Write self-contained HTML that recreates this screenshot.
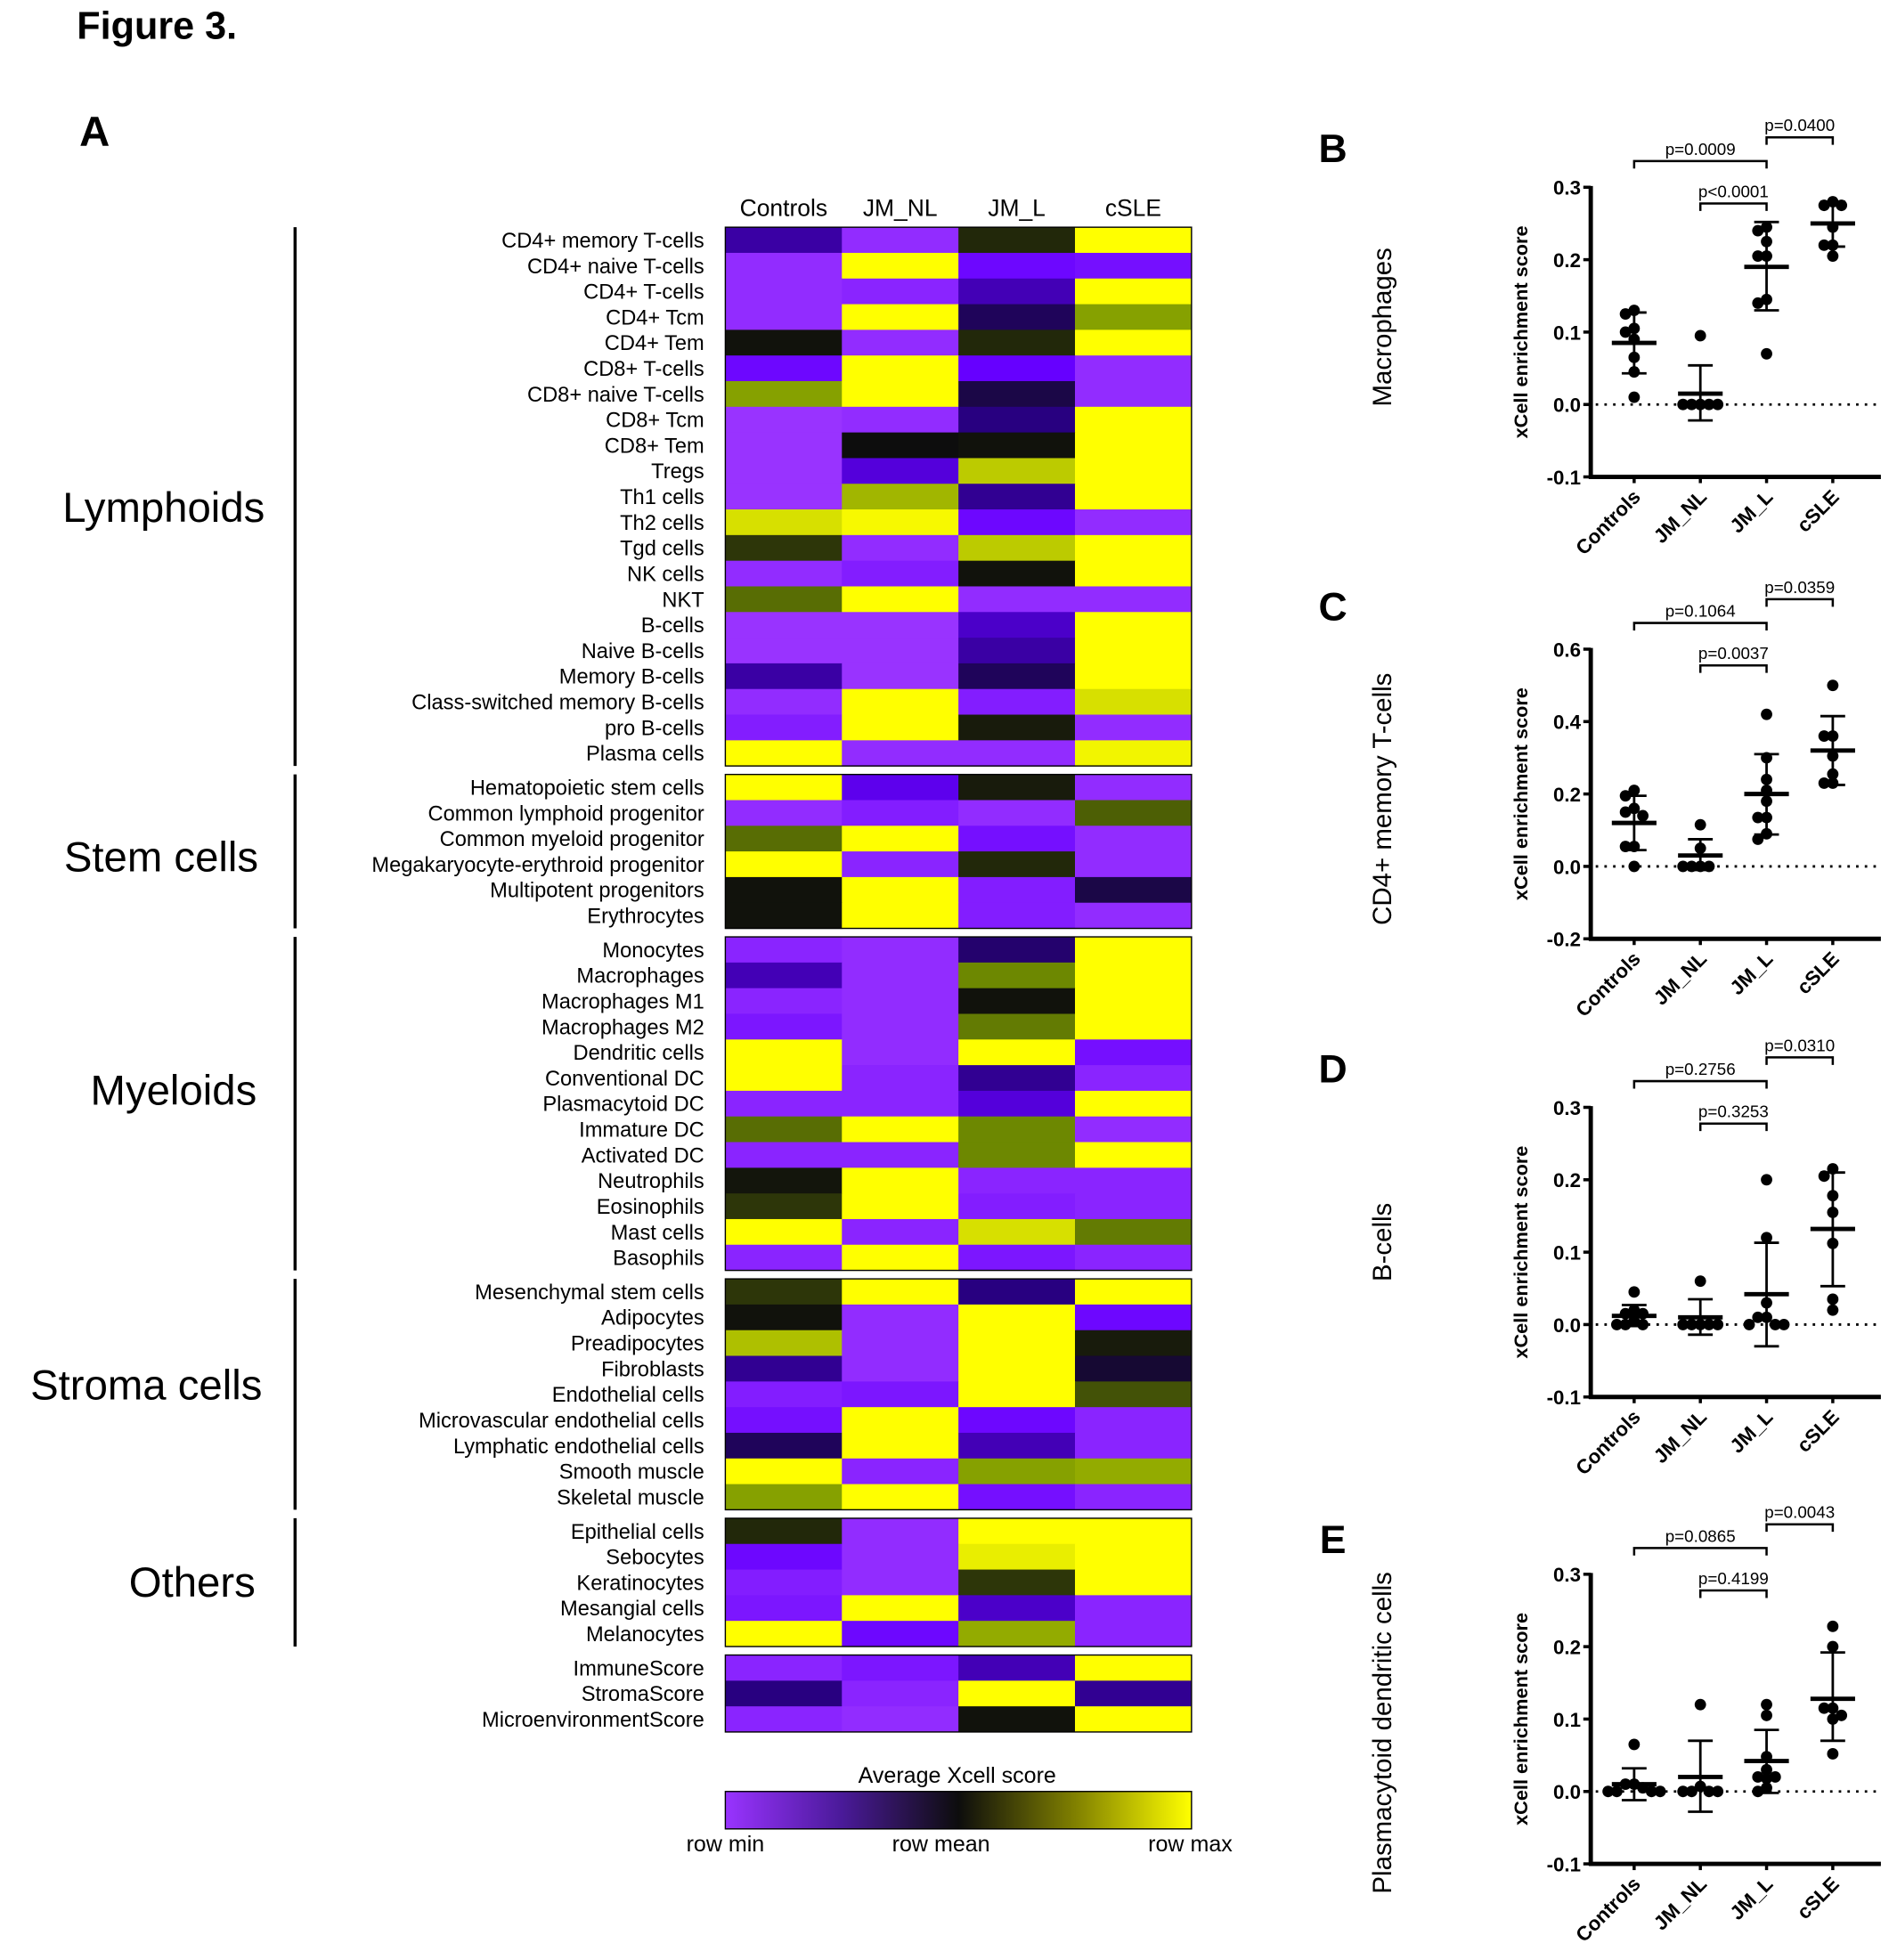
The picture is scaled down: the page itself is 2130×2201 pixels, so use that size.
<!DOCTYPE html>
<html><head><meta charset="utf-8"><style>
html,body{margin:0;padding:0;background:#fff}
svg{display:block;font-family:"Liberation Sans",Arial,sans-serif}
</style></head><body>
<svg id="fig" width="2130" height="2201" viewBox="0 0 1530 1570" preserveAspectRatio="none" xmlns="http://www.w3.org/2000/svg">
<defs><linearGradient id="lg" x1="0" x2="1" y1="0" y2="0">
<stop offset="0" stop-color="#9933ff"/><stop offset="0.25" stop-color="#4a1a99"/><stop offset="0.5" stop-color="#0d0d0d"/><stop offset="0.75" stop-color="#808000"/><stop offset="1" stop-color="#ffff00"/></linearGradient></defs>
<text x="62" y="31" font-size="31" font-weight="bold">Figure 3.</text>
<text x="64" y="117" font-size="34" font-weight="bold">A</text>
<g id="heat"></g>
<g id="panels"></g>
</svg>
<script>
const NS="http://www.w3.org/2000/svg";
function mk(tag,attrs,parent,txt){const e=document.createElementNS(NS,tag);for(const k in attrs)e.setAttribute(k,attrs[k]);if(txt!==undefined)e.textContent=txt;parent.appendChild(e);return e;}

// ---------- heatmap data ----------
const columns=["Controls","JM_NL","JM_L","cSLE"];
const groupNames=["Lymphoids","Stem cells","Myeloids","Stroma cells","Others",""];
const rowLabels=[
["CD4+ memory T-cells","CD4+ naive T-cells","CD4+ T-cells","CD4+ Tcm","CD4+ Tem","CD8+ T-cells","CD8+ naive T-cells","CD8+ Tcm","CD8+ Tem","Tregs","Th1 cells","Th2 cells","Tgd cells","NK cells","NKT","B-cells","Naive B-cells","Memory B-cells","Class-switched memory B-cells","pro B-cells","Plasma cells"],
["Hematopoietic stem cells","Common lymphoid progenitor","Common myeloid progenitor","Megakaryocyte-erythroid progenitor","Multipotent progenitors","Erythrocytes"],
["Monocytes","Macrophages","Macrophages M1","Macrophages M2","Dendritic cells","Conventional DC","Plasmacytoid DC","Immature DC","Activated DC","Neutrophils","Eosinophils","Mast cells","Basophils"],
["Mesenchymal stem cells","Adipocytes","Preadipocytes","Fibroblasts","Endothelial cells","Microvascular endothelial cells","Lymphatic endothelial cells","Smooth muscle","Skeletal muscle"],
["Epithelial cells","Sebocytes","Keratinocytes","Mesangial cells","Melanocytes"],
["ImmuneScore","StromaScore","MicroenvironmentScore"]];
// scaled values: -1 row min, 0 row mean, 1 row max
const cellValues=[
[[-0.4,-0.95,0.1,1],[-0.95,1,-0.7,-0.75],[-0.95,-0.9,-0.45,1],[-0.95,1,-0.2,0.55],[0.02,-0.95,0.1,1],[-0.7,1,-0.65,-0.95],[0.55,1,-0.15,-0.95],[-1,-0.95,-0.3,1],[-1,0.0,0.02,1],[-1,-0.55,0.75,1],[-1,0.65,-0.35,1],[0.85,0.97,-0.7,-0.95],[0.15,-0.95,0.75,1],[-0.95,-0.85,0.02,1],[0.35,1,-0.95,-0.95],[-1,-1,-0.5,1],[-1,-1,-0.4,1],[-0.4,-1,-0.2,1],[-0.95,1,-0.85,0.85],[-0.85,1,0.05,-0.95],[1,-0.95,-0.95,0.95]],
[[1,-0.6,0.05,-0.95],[-0.95,-0.85,-0.95,0.3],[0.35,1,-0.75,-0.95],[1,-0.9,0.1,-0.95],[0.02,1,-0.85,-0.15],[0.02,1,-0.85,-0.95]],
[[-0.9,-0.95,-0.25,1],[-0.45,-0.95,0.45,1],[-0.9,-0.95,0.02,1],[-0.8,-0.95,0.4,1],[1,-0.95,1,-0.75],[1,-0.9,-0.35,-0.9],[-0.9,-0.9,-0.55,1],[0.35,1,0.45,-0.95],[-0.9,-0.9,0.45,1],[0.03,1,-0.9,-0.9],[0.15,1,-0.85,-0.9],[1,-0.9,0.85,0.4],[-0.9,1,-0.8,-0.9]],
[[0.15,1,-0.3,1],[0.02,-0.95,1,-0.7],[0.7,-0.95,1,0.05],[-0.35,-0.95,1,-0.1],[-0.85,-0.8,1,0.25],[-0.75,1,-0.7,-0.9],[-0.2,1,-0.45,-0.9],[1,-0.9,0.55,0.6],[0.55,1,-0.75,-0.9]],
[[0.1,-0.95,1,1],[-0.7,-0.95,0.92,1],[-0.85,-0.95,0.15,1],[-0.8,1,-0.5,-0.9],[1,-0.7,0.6,-0.9]],
[[-0.9,-0.8,-0.45,1],[-0.3,-0.9,1,-0.35],[-0.9,-0.95,0.02,1]]];

function colorOf(v){
  const stops=[[-1,[153,51,255]],[-0.65,[102,0,255]],[-0.3,[40,0,128]],[0,[13,13,13]],[0.5,[120,150,0]],[1,[255,255,0]]];
  for(let i=1;i<stops.length;i++){if(v<=stops[i][0]){const a=stops[i-1],b=stops[i];const t=(v-a[0])/(b[0]-a[0]);const c=a[1].map((x,j)=>Math.round(x+(b[1][j]-x)*t));return `rgb(${c})`;}}
  return "rgb(255,255,0)";
}
const heat=document.getElementById("heat");
const HX0=585,HX1=961,RH=20.55,GAP=6.8,HY0=182;
const colW=(HX1-HX0)/columns.length;
const colX=i=>HX0+i*colW;
columns.forEach((c,i)=>{const t=mk("text",{x:colX(i)+colW/2,y:173,"text-anchor":"middle","font-size":19},heat,c);

});
const groupLabelPos=[[132,406],[130,686],[140,873],[118,1109],[155,1267]];
let y=HY0;
rowLabels.forEach((rows,g)=>{
  const gy0=y;
  rows.forEach((lab,r)=>{
    cellValues[g][r].forEach((v,c)=>{
      const rc=mk("rect",{x:colX(c),y:y,width:colW+0.4,height:RH+0.4,fill:colorOf(v)},heat);
      
      
    });
    const t=mk("text",{x:568,y:y+RH/2+6,"text-anchor":"end","font-size":17},heat,lab);
    
    
    y+=RH;
  });
  const fr=mk("rect",{x:HX0,y:gy0,width:HX1-HX0,height:y-gy0,fill:"none",stroke:"#000","stroke-width":1},heat);
  
  
  if(groupNames[g]){
    const ln=mk("line",{x1:238,x2:238,y1:gy0,y2:y,stroke:"#000","stroke-width":2.5},heat);
    
    
    const gl=mk("text",{x:groupLabelPos[g][0],y:groupLabelPos[g][1]+12,"text-anchor":"middle","font-size":34},heat,groupNames[g]);
    
    
  }
  y+=GAP;
});
// legend
const lt=mk("text",{x:772,y:1428,"text-anchor":"middle","font-size":18},heat,"Average Xcell score");


const lb=mk("rect",{x:585,y:1435,width:376,height:30,fill:"url(#lg)",stroke:"#000","stroke-width":1},heat);


[["row min",585],["row mean",759],["row max",960]].forEach(([s,x])=>{const t=mk("text",{x:x,y:1483,"text-anchor":"middle","font-size":18},heat,s);

});

// ---------- scatter panels ----------
const groups=["Controls","JM_NL","JM_L","cSLE"];
const panelLetters=["B","C","D","E"];
const panelTitles=["Macrophages","CD4+ memory T-cells","B-cells","Plasmacytoid dendritic cells"];
const yTicksB=[-0.1,0.0,0.1,0.2,0.3];
const yTicksC=[-0.2,0.0,0.2,0.4,0.6];
const ptsB=[[0.13,0.125,0.105,0.10,0.09,0.065,0.045,0.01],[0.095,0,0,0,0,0],[0.245,0.24,0.225,0.205,0.205,0.145,0.14,0.07],[0.28,0.275,0.275,0.245,0.22,0.22,0.205]];
const ptsC=[[0.21,0.195,0.16,0.15,0.14,0.055,0.055,0.0],[0.115,0.05,0,0,0,0],[0.42,0.30,0.24,0.21,0.18,0.135,0.135,0.09,0.075],[0.5,0.36,0.36,0.305,0.255,0.23,0.23]];
const ptsD=[[0.045,0.02,0.015,0.015,0.005,0,0,0],[0.06,0,0,0,0,0],[0.2,0.12,0.03,0.01,0.01,0,0,0],[0.215,0.205,0.178,0.155,0.112,0.035,0.02]];
const ptsE=[[0.065,0.01,0.01,0.005,0,0,0,0],[0.12,0.007,0,0,0,0],[0.12,0.105,0.048,0.03,0.02,0.018,0.02,0.005,0],[0.228,0.2,0.115,0.115,0.105,0.1,0.052]];
const meansB=[0.085,0.015,0.19,0.25], lowB=[0.043,-0.022,0.13,0.218], highB=[0.127,0.054,0.252,0.28];
const meansC=[0.12,0.03,0.2,0.32], lowC=[0.045,-0.01,0.088,0.225], highC=[0.195,0.075,0.31,0.415];
const meansD=[0.012,0.01,0.042,0.132], lowD=[-0.002,-0.014,-0.03,0.053], highD=[0.027,0.035,0.113,0.21];
const meansE=[0.01,0.02,0.042,0.128], lowE=[-0.012,-0.028,-0.002,0.07], highE=[0.032,0.07,0.085,0.192];
const pvalB=["p=0.0009","p=0.0400","p<0.0001"];
const pvalC=["p=0.1064","p=0.0359","p=0.0037"];
const pvalD=["p=0.2756","p=0.0310","p=0.3253"];
const pvalE=["p=0.0865","p=0.0043","p=0.4199"];

const panelDefs=[
 {top:150,ticks:yTicksB,pts:ptsB,m:meansB,lo:lowB,hi:highB,p:pvalB,letterY:118,titleY:262},
 {top:520,ticks:yTicksC,pts:ptsC,m:meansC,lo:lowC,hi:highC,p:pvalC,letterY:485,titleY:640},
 {top:887,ticks:yTicksB,pts:ptsD,m:meansD,lo:lowD,hi:highD,p:pvalD,letterY:855,titleY:995},
 {top:1261,ticks:yTicksB,pts:ptsE,m:meansE,lo:lowE,hi:highE,p:pvalE,letterY:1232,titleY:1388}];
const pg=document.getElementById("panels");
const AX=1283,AXR=1517,PH=232;
const gx=i=>1318+i*53.4;
function swarm(ys){ // x offsets avoiding heavy overlap, compact
  const placed=[];const offs=[];const R=6.5;const S=7;
  const cand=[0,-1,1,-2,2,-3,3].map(k=>k*S);
  ys.forEach(yv=>{
    let best=null;
    for(const o of cand){
      if(placed.every(p=>Math.hypot(p[0]-o,p[1]-yv)>=R)){best=o;break;}
    }
    if(best===null)best=0;
    placed.push([best,yv]);offs.push(best);
  });
  return offs;
}
panelDefs.forEach((P,k)=>{
  const g=mk("g",{},pg);
  
  
  const ymin=P.ticks[0],ymax=P.ticks[P.ticks.length-1];
  const yS=v=>P.top+PH*(ymax-v)/(ymax-ymin);
  const bot=P.top+PH;
  const L=mk("text",{x:1075,y:P.letterY+12,"text-anchor":"middle","font-size":32,"font-weight":"bold"},g,panelLetters[k]);
  
  
  const T=mk("text",{x:0,y:0,"text-anchor":"middle","font-size":21,transform:`translate(1122,${P.titleY}) rotate(-90)`},g,panelTitles[k]);
  
  
  const YT=mk("text",{x:0,y:0,"text-anchor":"middle","font-size":15.5,"font-weight":"bold",transform:`translate(1232,${P.top+PH/2}) rotate(-90)`},g,"xCell enrichment score");
  
  
  const ya=mk("line",{x1:AX,x2:AX,y1:P.top-1,y2:bot+1.5,stroke:"#000","stroke-width":3.5},g);
  
  
  const xa=mk("line",{x1:AX-1.5,x2:AXR,y1:bot,y2:bot,stroke:"#000","stroke-width":3.5},g);
  
  
  P.ticks.forEach(t=>{
    mk("line",{x1:AX-6,x2:AX,y1:yS(t),y2:yS(t),stroke:"#000","stroke-width":2.5},g);
    const tl=mk("text",{x:AX-8,y:yS(t)+6,"text-anchor":"end","font-size":16,"font-weight":"bold"},g,t.toFixed(1));
    
    
  });
  const zl=mk("line",{x1:AX+4,x2:AXR,y1:yS(0),y2:yS(0),stroke:"#000","stroke-width":2,"stroke-dasharray":"2 5"},g);
  
  
  groups.forEach((gn,i)=>{
    const x=gx(i);
    mk("line",{x1:x,x2:x,y1:bot,y2:bot+5,stroke:"#000","stroke-width":2.5},g);
    const xl=mk("text",{x:0,y:0,"text-anchor":"end","font-size":16,"font-weight":"bold",transform:`translate(${x+6},${bot+17}) rotate(-45)`},g,gn);
    
    
    const vals=P.pts[i];
    const offs=swarm(vals.map(yS));
    vals.forEach((v,j)=>{
      const c=mk("circle",{cx:x+offs[j],cy:yS(v),r:4.6,fill:"#000"},g);
      
      
    });
    const eb=mk("line",{x1:x,x2:x,y1:yS(P.lo[i]),y2:yS(P.hi[i]),stroke:"#000","stroke-width":2},g);
    
    
    mk("line",{x1:x-10,x2:x+10,y1:yS(P.lo[i]),y2:yS(P.lo[i]),stroke:"#000","stroke-width":2},g);
    mk("line",{x1:x-10,x2:x+10,y1:yS(P.hi[i]),y2:yS(P.hi[i]),stroke:"#000","stroke-width":2},g);
    const mn=mk("line",{x1:x-18,x2:x+18,y1:yS(P.m[i]),y2:yS(P.m[i]),stroke:"#000","stroke-width":3.5},g);
    
    
  });
  const br=[[0,2,-21],[2,3,-40],[1,2,13]];
  br.forEach((b,j)=>{
    const by=P.top+b[2];
    const x1=gx(b[0]),x2=gx(b[1]);
    const pth=mk("path",{d:`M${x1},${by+6}V${by}H${x2}V${by+6}`,fill:"none",stroke:"#000","stroke-width":1.8},g);
    
    
    const pt=mk("text",{x:(x1+x2)/2,y:by-5,"text-anchor":"middle","font-size":13.5},g,P.p[j]);
    
    
  });
});
</script>
</body></html>
